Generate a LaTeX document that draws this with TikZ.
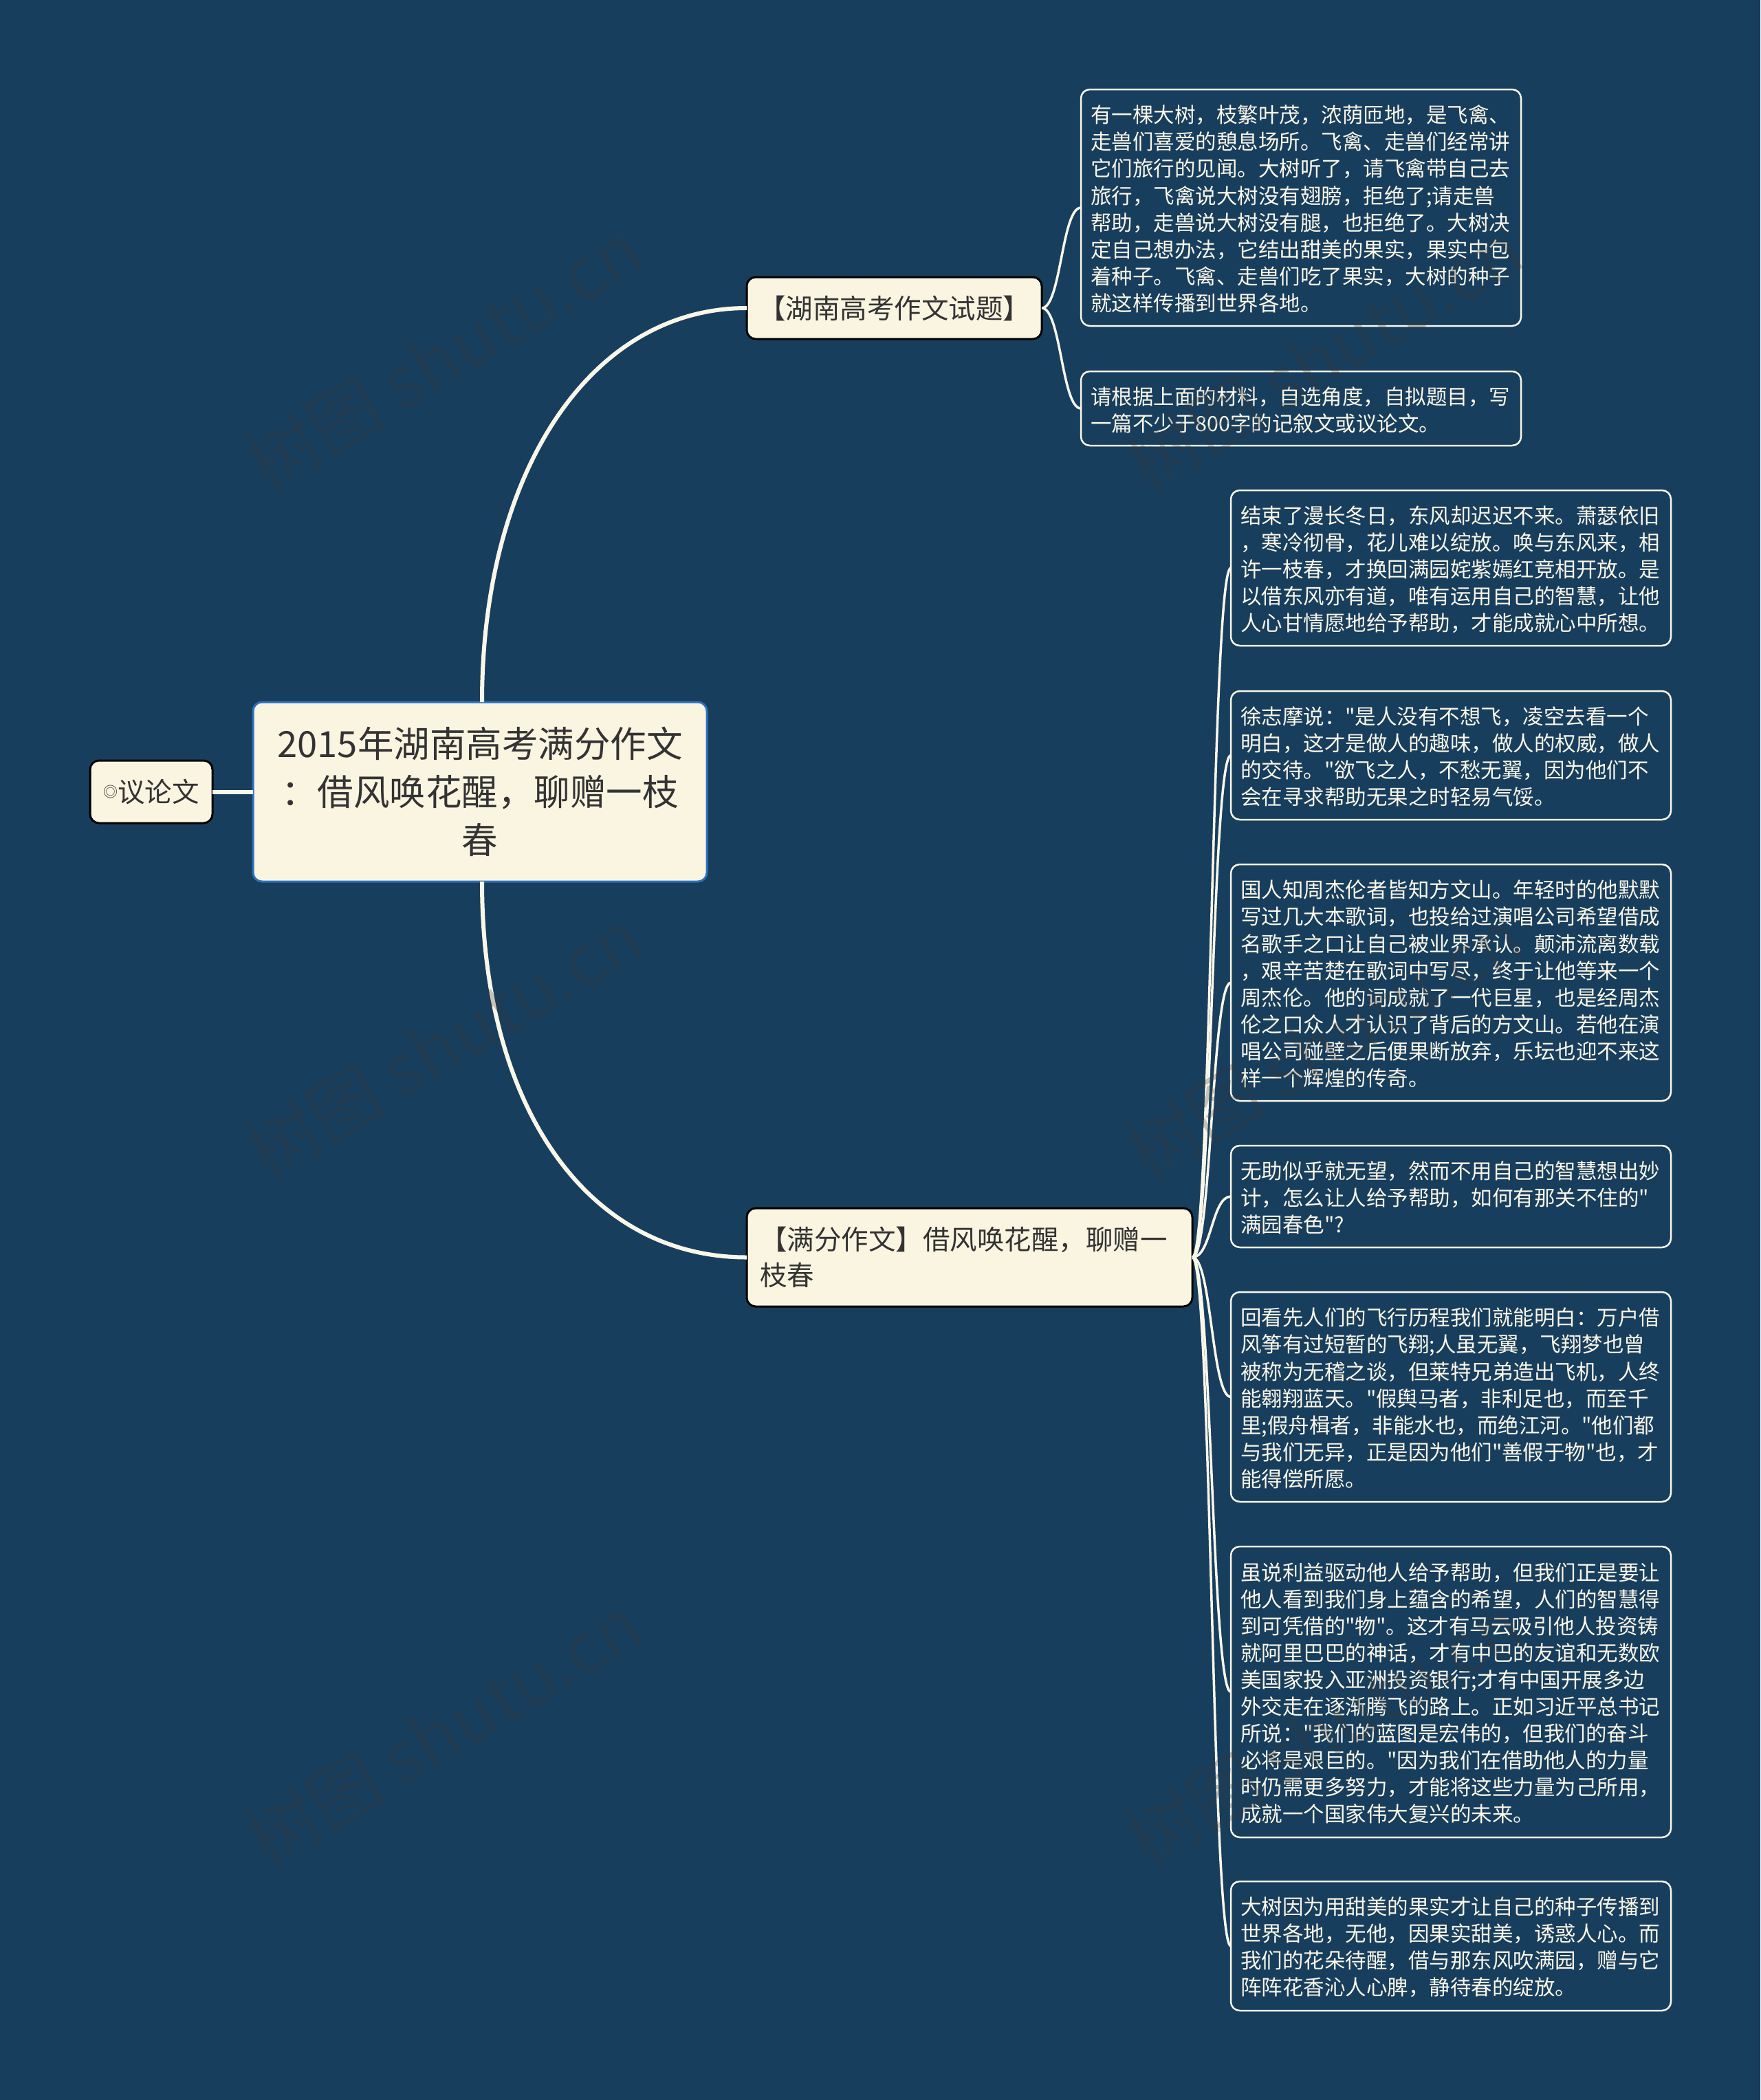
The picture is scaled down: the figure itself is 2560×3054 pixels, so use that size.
\documentclass[tikz,border=0pt]{standalone}
\usepackage{fontspec}
\setmainfont[Ligatures=TeXOff]{Noto Sans CJK SC}
\usetikzlibrary{positioning}
\definecolor{boardblue}{HTML}{183E5E}
\definecolor{creamfill}{HTML}{FAF5E1}
\definecolor{creamline}{HTML}{FBF7E8}
\definecolor{inkdark}{HTML}{333333}
\definecolor{rootline}{HTML}{2F6FBE}
\definecolor{markgrey}{HTML}{383838}
\begin{document}
\begin{tikzpicture}[x=1pt,y=1pt,node distance=65pt,
  root node/.style={rectangle,rounded corners=13pt,fill=creamfill,draw=rootline,line width=3pt,text=inkdark,outer sep=0pt,minimum width=660pt,minimum height=261pt,text width=640pt,inner sep=0pt,align=center,font=\fontsize{52.5}{70}\selectfont},
  branch node/.style={rectangle,rounded corners=13pt,fill=creamfill,draw=black,line width=3pt,text=inkdark,outer sep=0pt,inner sep=0pt,font=\fontsize{39.5}{52}\selectfont},
  leaf node/.style={rectangle,rounded corners=13pt,draw=creamline,line width=2.5pt,text=creamline,outer sep=0pt,inner xsep=14pt,inner ysep=0pt,text width=612pt,align=left,font=\fontsize{30.5}{39.1}\selectfont,execute at end node={\vspace{-4pt}}},
  main link/.style={draw=creamline,line width=6pt},
  leaf link/.style={draw=creamline,line width=3.5pt},
  sway/.style={out=0,in=180,distance=28pt},
  mark node/.style={text=markgrey,opacity=0.27,rotate=31,font=\fontsize{103}{103}\selectfont}]

  \useasboundingbox (0,0) rectangle (2560,-3054);
  \fill[boardblue] (0,0) rectangle (2560,-3054);

  \node[root node] (root) at (698,-1151.5) {2015年湖南高考满分作文\\：借风唤花醒，聊赠一枝\\春};
  \node[branch node,minimum width=178pt,minimum height=91pt] (topic) at (220,-1151.5) {\raisebox{7pt}{\fontsize{21}{21}\selectfont ◎}议论文};
  \node[branch node,minimum width=429pt,minimum height=90pt] (exam) at (1300.5,-448) {【湖南高考作文试题】};
  \node[branch node,minimum width=648pt,minimum height=143pt,text width=610pt,align=left] (essay) at (1410,-1828.5) {【满分作文】借风唤花醒，聊赠一\\枝春};

  \node[leaf node,minimum height=344pt] (story) at (1892,-302) {有一棵大树，枝繁叶茂，浓荫匝地，是飞禽、\\走兽们喜爱的憩息场所。飞禽、走兽们经常讲\\它们旅行的见闻。大树听了，请飞禽带自己去\\旅行，飞禽说大树没有翅膀，拒绝了;请走兽\\帮助，走兽说大树没有腿，也拒绝了。大树决\\定自己想办法，它结出甜美的果实，果实中包\\着种子。飞禽、走兽们吃了果实，大树的种子\\就这样传播到世界各地。};
  \node[leaf node,minimum height=108pt] (task) [below=66pt of story] {请根据上面的材料，自选角度，自拟题目，写\\一篇不少于800字的记叙文或议论文。};

  \node[leaf node,minimum height=226pt] (wind) at (2110,-826) {结束了漫长冬日，东风却迟迟不来。萧瑟依旧\\，寒冷彻骨，花儿难以绽放。唤与东风来，相\\许一枝春，才换回满园姹紫嫣红竞相开放。是\\以借东风亦有道，唯有运用自己的智慧，让他\\人心甘情愿地给予帮助，才能成就心中所想。};
  \node[leaf node,minimum height=187pt] (xu) [below=66pt of wind] {徐志摩说："是人没有不想飞，凌空去看一个\\明白，这才是做人的趣味，做人的权威，做人\\的交待。"欲飞之人，不愁无翼，因为他们不\\会在寻求帮助无果之时轻易气馁。};
  \node[leaf node,minimum height=344pt] (fang) [below=of xu] {国人知周杰伦者皆知方文山。年轻时的他默默\\写过几大本歌词，也投给过演唱公司希望借成\\名歌手之口让自己被业界承认。颠沛流离数载\\，艰辛苦楚在歌词中写尽，终于让他等来一个\\周杰伦。他的词成就了一代巨星，也是经周杰\\伦之口众人才认识了背后的方文山。若他在演\\唱公司碰壁之后便果断放弃，乐坛也迎不来这\\样一个辉煌的传奇。};
  \node[leaf node,minimum height=148pt] (help) [below=of fang] {无助似乎就无望，然而不用自己的智慧想出妙\\计，怎么让人给予帮助，如何有那关不住的"\\满园春色"?};
  \node[leaf node,minimum height=305pt] (flight) [below=of help] {回看先人们的飞行历程我们就能明白：万户借\\风筝有过短暂的飞翔;人虽无翼，飞翔梦也曾\\被称为无稽之谈，但莱特兄弟造出飞机，人终\\能翱翔蓝天。"假舆马者，非利足也，而至千\\里;假舟楫者，非能水也，而绝江河。"他们都\\与我们无异，正是因为他们"善假于物"也，才\\能得偿所愿。};
  \node[leaf node,minimum height=423pt] (profit) [below=of flight] {虽说利益驱动他人给予帮助，但我们正是要让\\他人看到我们身上蕴含的希望，人们的智慧得\\到可凭借的"物"。这才有马云吸引他人投资铸\\就阿里巴巴的神话，才有中巴的友谊和无数欧\\美国家投入亚洲投资银行;才有中国开展多边\\外交走在逐渐腾飞的路上。正如习近平总书记\\所说："我们的蓝图是宏伟的，但我们的奋斗\\必将是艰巨的。"因为我们在借助他人的力量\\时仍需更多努力，才能将这些力量为己所用，\\成就一个国家伟大复兴的未来。};
  \node[leaf node,minimum height=188pt] (spring) [below=64pt of profit] {大树因为用甜美的果实才让自己的种子传播到\\世界各地，无他，因果实甜美，诱惑人心。而\\我们的花朵待醒，借与那东风吹满园，赠与它\\阵阵花香沁人心脾，静待春的绽放。};

  \path[main link]
    (root) edge (topic)
    ([xshift=3pt]root.north) edge [out=90,in=180,out distance=330pt,in distance=230pt] (exam)
    ([xshift=3pt]root.south) edge [out=-90,in=180,out distance=330pt,in distance=230pt] (essay);

  \path[leaf link]
    (exam) edge [sway] (story)
           edge [sway] (task)
    (essay) edge [sway] (wind)
            edge [sway] (xu)
            edge [sway] (fang)
            edge [sway] (help)
            edge [sway] (flight)
            edge [sway] (profit)
            edge [sway] (spring);

  \node[mark node] (mark a) at (645,-518) {树图 shutu.cn};
  \node[mark node] (mark b) at (1925,-518) {树图 shutu.cn};
  \node[mark node] (mark c) at (645,-1518) {树图 shutu.cn};
  \node[mark node] (mark d) at (1925,-1518) {树图 shutu.cn};
  \node[mark node] (mark e) at (645,-2518) {树图 shutu.cn};
  \node[mark node] (mark f) at (1925,-2518) {树图 shutu.cn};
\end{tikzpicture}
\end{document}
